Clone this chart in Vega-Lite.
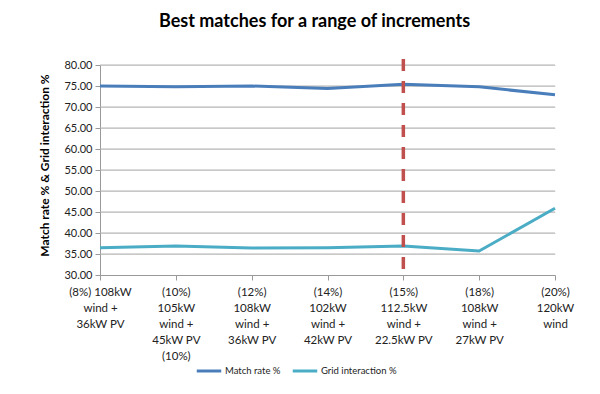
{
  "$schema": "https://vega.github.io/schema/vega-lite/v6.json",
  "autosize": "none",
  "width": 455,
  "height": 210,
  "padding": {"left": 100, "top": 65, "right": 45, "bottom": 119},
  "background": "white",
  "config": {"view": {"stroke": null}, "font": "Lato"},
  "title": {
    "text": "Best matches for a range of increments",
    "fontSize": 18,
    "fontWeight": "bold",
    "font": "Lato",
    "color": "#000000",
    "anchor": "middle",
    "dx": -13,
    "offset": 26
  },
  "datasets": {
    "lines": [
      {"cat": "(8%) 108kW|wind  +|36kW PV", "series": "Match rate %", "value": 75.0},
      {"cat": "(10%)|105kW|wind +|45kW PV|(10%)", "series": "Match rate %", "value": 74.8},
      {"cat": "(12%)|108kW|wind +|36kW PV", "series": "Match rate %", "value": 75.0},
      {"cat": "(14%)|102kW|wind +|42kW PV", "series": "Match rate %", "value": 74.4},
      {"cat": "(15%)|112.5kW|wind +|22.5kW PV", "series": "Match rate %", "value": 75.4},
      {"cat": "(18%)|108kW|wind +|27kW PV", "series": "Match rate %", "value": 74.8},
      {"cat": "(20%)|120kW|wind", "series": "Match rate %", "value": 72.9},
      {"cat": "(8%) 108kW|wind  +|36kW PV", "series": "Grid interaction %", "value": 36.5},
      {"cat": "(10%)|105kW|wind +|45kW PV|(10%)", "series": "Grid interaction %", "value": 36.9},
      {"cat": "(12%)|108kW|wind +|36kW PV", "series": "Grid interaction %", "value": 36.4},
      {"cat": "(14%)|102kW|wind +|42kW PV", "series": "Grid interaction %", "value": 36.5},
      {"cat": "(15%)|112.5kW|wind +|22.5kW PV", "series": "Grid interaction %", "value": 36.9},
      {"cat": "(18%)|108kW|wind +|27kW PV", "series": "Grid interaction %", "value": 35.7},
      {"cat": "(20%)|120kW|wind", "series": "Grid interaction %", "value": 45.9}
    ],
    "gridlines": [
      {"value": 35}, {"value": 40}, {"value": 45}, {"value": 50}, {"value": 55},
      {"value": 60}, {"value": 65}, {"value": 70}, {"value": 75}, {"value": 80}
    ],
    "marker": [
      {"cat": "(15%)|112.5kW|wind +|22.5kW PV", "value": 81.4, "bottom": 30}
    ]
  },
  "layer": [
    {
      "data": {"name": "gridlines"},
      "mark": {"type": "rule", "color": "#b3b3b3", "strokeWidth": 1},
      "encoding": {
        "y": {
          "field": "value",
          "type": "quantitative",
          "scale": {"domain": [30, 80], "nice": false, "zero": false},
          "axis": {
            "title": "Match rate % & Grid interaction %",
            "titleFontSize": 12,
            "titleFontWeight": "bold",
            "titleColor": "#000000",
            "titlePadding": 12,
            "titleY": 100,
            "tickCount": 10,
            "labelOverlap": false,
            "format": ".2f",
            "labelFontSize": 11,
            "labelColor": "#222222",
            "labelPadding": 3,
            "domainColor": "#999999",
            "tickColor": "#999999",
            "tickSize": 5
          }
        }
      }
    },
    {
      "data": {"name": "lines"},
      "mark": {"type": "line", "interpolate": "linear", "strokeWidth": 3, "strokeJoin": "round"},
      "encoding": {
        "x": {
          "field": "cat",
          "type": "nominal",
          "sort": ["(8%) 108kW|wind  +|36kW PV", "(10%)|105kW|wind +|45kW PV|(10%)", "(12%)|108kW|wind +|36kW PV", "(14%)|102kW|wind +|42kW PV", "(15%)|112.5kW|wind +|22.5kW PV", "(18%)|108kW|wind +|27kW PV", "(20%)|120kW|wind"],
          "scale": {"type": "point", "padding": 0},
          "axis": {
            "title": null,
            "labelAngle": 0,
            "labelExpr": "split(datum.label, '|')",
            "labelFontSize": 11.5,
            "labelLineHeight": 16,
            "labelColor": "#222222",
            "labelPadding": 6,
            "labelBaseline": "top",
            "domainColor": "#999999",
            "tickColor": "#999999",
            "tickSize": 5,
            "grid": false,
            "labelLimit": 200,
            "labelOverlap": false
          }
        },
        "y": {"field": "value", "type": "quantitative"},
        "color": {
          "field": "series",
          "type": "nominal",
          "scale": {"domain": ["Match rate %", "Grid interaction %"], "range": ["#4a7ebb", "#4bacc6"]},
          "legend": {
            "title": null,
            "orient": "none",
            "direction": "horizontal",
            "legendX": 95,
            "legendY": 292,
            "symbolType": "stroke",
            "symbolSize": 600,
            "symbolStrokeWidth": 3,
            "labelFontSize": 9.5,
            "labelColor": "#222222",
            "labelOffset": 2,
            "columnPadding": 5
          }
        }
      }
    },
    {
      "data": {"name": "marker"},
      "mark": {"type": "rule", "color": "#c0504d", "strokeWidth": 3.5, "strokeDash": [12, 10]},
      "encoding": {
        "x": {"field": "cat", "type": "nominal", "sort": ["(8%) 108kW|wind  +|36kW PV", "(10%)|105kW|wind +|45kW PV|(10%)", "(12%)|108kW|wind +|36kW PV", "(14%)|102kW|wind +|42kW PV", "(15%)|112.5kW|wind +|22.5kW PV", "(18%)|108kW|wind +|27kW PV", "(20%)|120kW|wind"]},
        "y": {"field": "value", "type": "quantitative"},
        "y2": {"field": "bottom"}
      }
    }
  ]
}
